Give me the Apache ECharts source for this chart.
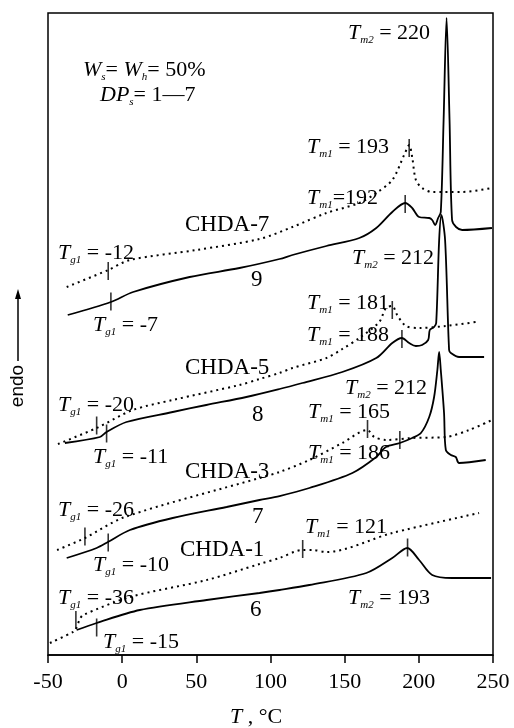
<!DOCTYPE html>
<html><head><meta charset="utf-8">
<script src="https://cdn.jsdelivr.net/npm/echarts@6.0.0/dist/echarts.min.js"></script>
<style>html,body{margin:0;padding:0;background:#fff}#c{width:514px;height:728px}</style>
</head><body><div id="c"></div>
<script>
// x axis: temperature, degC
const xTicks = [-50, 0, 50, 100, 150, 200, 250];
// DSC traces (T in degC, heat flow in arbitrary offset units)
const chda7Solid = [[-36.7,340],[-7.6,353],[7.4,363],[45.5,378],[79.1,387],[106.1,396],[114.8,400],[137.7,409],[159.9,417],[171.3,427],[182.1,443],[190.8,452],[195.5,447],[200.2,438],[207,437],[209,435],[211,430],[213,437],[214.8,443],[216.7,535],[218.7,637],[220.7,535],[222.4,435],[225.1,428],[229.2,425],[249.3,427]];
const chda7Dotted = [[-37.4,368],[-9.4,385],[5.2,395],[50,405],[92.6,416],[114.8,428],[137.7,442],[159.9,452],[171.3,462],[182.1,475],[190.1,500],[193.5,510],[195.5,498],[198,475],[202.2,467],[209,463],[229.2,463],[249.3,467]];
const chda5Solid = [[-38.6,212],[-15,218],[-10.5,223],[2.9,233],[34.1,243],[56.7,250],[83.7,258],[106.1,266],[121.5,272],[148.4,283],[171.3,297],[182.1,312],[188.6,317],[193.5,312],[198,309],[202.2,310],[206.3,315],[207.4,325],[210.3,328],[211.7,332],[213.7,415],[215.2,440],[217.7,415],[220.4,305],[221.6,302],[227.1,298],[244,298]];
const chda5Dotted = [[-43.3,211],[-17.2,227],[7.2,245],[34.1,255],[79.1,270],[92.6,276],[106.1,282],[114.8,287],[137.7,297],[148.4,306],[159.9,317],[173.3,333],[177.8,347],[182.1,349],[185.4,340],[191.3,329],[200.2,327],[218.2,329],[238.4,333]];
const chda3Solid = [[-37.4,97],[-17.2,107],[-9.6,113],[5.2,125],[34.1,137],[70.4,148],[92.6,155],[106.1,159],[126.2,167],[155.2,182],[171.3,198],[177.8,208],[187.2,212],[195.5,217],[201.4,222],[207,238],[210.3,258],[212.5,285],[213.7,303],[214.8,285],[217,242],[218.2,205],[221.6,200],[224.9,198],[227.1,192],[245.1,195]];
const chda3Dotted = [[-43.9,105],[-25.1,117],[1.8,138],[92.6,177],[106.1,183],[126.2,195],[148.4,212],[165.2,225],[170,218],[178,215],[195.5,217],[218.2,218],[233.9,225],[249.3,235]];
const chda1Solid = [[-30.7,25],[-17.2,32],[11.9,45],[57,55],[92.6,62],[106.1,65],[126.2,70],[164.6,82],[182.1,97],[192.2,107],[200.2,95],[209,80],[222.4,77],[248.7,77]];
const chda1Dotted = [[-48.7,12],[-33.2,23],[-31.2,26],[-28.5,36],[-26.3,40],[5.2,58],[57,75],[92.6,91],[106.1,97],[121.5,105],[128.3,105],[137.7,103],[182.1,122],[240.6,142]];
// transition markers (Tg / Tm ticks) on the traces
const markerPoints = [[-9.4,384],[-7.6,353.5],[193.5,507],[190.8,451],[-17.2,229.5],[-10.5,221.5],[182.1,345],[188.6,316],[-25.1,118.5],[-9.4,112.5],[165.4,226],[187.2,215],[-31.2,35],[-17.2,27.5],[121.7,106],[192.4,107.5]];

const SERIF = 'Liberation Serif';
const rich = {
  i: {fontFamily: SERIF, fontStyle: 'italic', fontSize: 22, lineHeight: 26, fill: '#000'},
  s: {fontFamily: SERIF, fontStyle: 'italic', fontSize: 11, lineHeight: 14, verticalAlign: 'bottom', fill: '#000'},
  n: {fontFamily: SERIF, fontSize: 22, lineHeight: 26, fill: '#000'},
  b: {fontFamily: SERIF, fontSize: 23, lineHeight: 26, fill: '#000'}
};
function sym(main, sub, rest) { return '{i|' + main + '}{s|' + sub + '}{n|' + rest + '}'; }

// annotation texts: [text, x(px), y(px)]
const annotations = [
  ['{i|W}{s|s}{n|= }{i|W}{s|h}{n|= 50%}', 83, 70],
  ['{i|DP}{s|s}{n|= 1—7}', 100, 95],
  [sym('T', 'm2', ' = 220'), 348, 33],
  [sym('T', 'm1', ' = 193'), 307, 147],
  [sym('T', 'm1', '=192'), 307, 198],
  ['{b|CHDA-7}', 185, 225],
  [sym('T', 'g1', ' = -12'), 58, 253],
  ['{b|9}', 251, 280],
  [sym('T', 'g1', ' = -7'), 93, 325],
  [sym('T', 'm2', ' = 212'), 352, 258],
  [sym('T', 'm1', ' = 181'), 307, 303],
  [sym('T', 'm1', ' = 188'), 307, 335],
  ['{b|CHDA-5}', 185, 368],
  [sym('T', 'g1', ' = -20'), 58, 405],
  ['{b|8}', 252, 415],
  [sym('T', 'g1', ' = -11'), 93, 457],
  ['{b|CHDA-3}', 185, 472],
  [sym('T', 'm2', ' = 212'), 345, 388],
  [sym('T', 'm1', ' = 165'), 308, 412],
  [sym('T', 'm1', ' = 186'), 308, 453],
  [sym('T', 'g1', ' = -26'), 58, 510],
  ['{b|7}', 252, 517],
  [sym('T', 'g1', ' = -10'), 93, 565],
  ['{b|CHDA-1}', 180, 550],
  [sym('T', 'm1', ' = 121'), 305, 527],
  [sym('T', 'g1', ' = -36'), 58, 598],
  ['{b|6}', 250, 610],
  [sym('T', 'g1', ' = -15'), 103, 642],
  [sym('T', 'm2', ' = 193'), 348, 598]
];

const curves = [
  [chda7Solid, 'solid'], [chda7Dotted, 'dot'],
  [chda5Solid, 'solid'], [chda5Dotted, 'dot'],
  [chda3Solid, 'solid'], [chda3Dotted, 'dot'],
  [chda1Solid, 'solid'], [chda1Dotted, 'dot']
];

const series = curves.map(([d, kind]) => ({
  type: 'line', data: d, symbol: 'none', smooth: 0.3, silent: true,
  lineStyle: kind === 'solid' ? {color: '#000', width: 1.8} : {color: '#000', width: 2, type: [2, 4]}
}));
series.push({
  type: 'scatter', data: markerPoints, symbol: 'rect', symbolSize: [1.6, 18], silent: true,
  itemStyle: {color: '#000'}
});

const graphic = annotations.map(([t, x, y]) => ({
  type: 'text', x: x, y: y, silent: true,
  style: {text: t, rich: rich, verticalAlign: 'middle', align: 'left', fill: '#000'}
}));
graphic.push({type: 'text', x: 230, y: 717, silent: true,
  style: {text: '{i|T}{n| , °C}', rich: rich, verticalAlign: 'middle', align: 'left'}});
graphic.push({type: 'text', x: 18, y: 386, rotation: Math.PI / 2, silent: true,
  style: {text: 'endo', font: '19px "Liberation Sans"', fill: '#000', align: 'center', verticalAlign: 'middle'}});
graphic.push({type: 'line', silent: true, shape: {x1: 18, y1: 361, x2: 18, y2: 296}, style: {stroke: '#000', lineWidth: 1.5}});
graphic.push({type: 'polygon', silent: true, shape: {points: [[18, 289], [15, 299], [21, 299]]}, style: {fill: '#000'}});

const chart = echarts.init(document.getElementById('c'));
chart.setOption({
  animation: false,
  backgroundColor: '#fff',
  grid: {left: 48, right: 21, top: 13, bottom: 73, show: true, borderColor: '#000', borderWidth: 1.5, backgroundColor: 'transparent'},
  xAxis: {
    type: 'value', min: xTicks[0], max: xTicks[xTicks.length - 1], interval: 50,
    axisLine: {show: true, onZero: false, lineStyle: {color: '#000', width: 1.5}},
    axisTick: {show: true, inside: false, length: 8, lineStyle: {color: '#000', width: 1.5}},
    axisLabel: {color: '#000', fontFamily: SERIF, fontSize: 22, margin: 16},
    splitLine: {show: false}
  },
  yAxis: {
    type: 'value', min: 0, max: 642,
    axisLine: {show: false, onZero: false},
    axisTick: {show: false}, axisLabel: {show: false}, splitLine: {show: false}
  },
  series: series,
  graphic: graphic
});
</script>
</body></html>
